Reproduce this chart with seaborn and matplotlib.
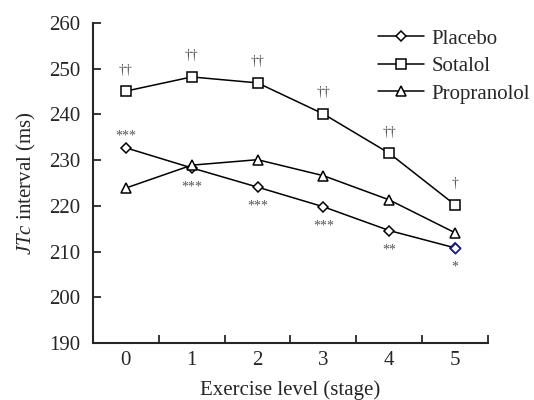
import numpy as np
import pandas as pd
import matplotlib
matplotlib.use("Agg")
import matplotlib.pyplot as plt
from matplotlib.ticker import FixedLocator
import seaborn as sns

sns.set_style("ticks")
plt.rcParams["font.family"] = ["Liberation Serif", "DejaVu Serif"]
plt.rcParams["mathtext.fontset"] = "custom"
plt.rcParams["mathtext.rm"] = "Liberation Serif"
plt.rcParams["mathtext.it"] = "Liberation Serif:italic"

# data
stages = [0, 1, 2, 3, 4, 5]
placebo = [232.7, 228.3, 224.1, 219.8, 214.6, 210.8]
sotalol = [245.1, 248.2, 246.9, 240.1, 231.5, 220.2]
propranolol = [223.9, 228.9, 230.1, 226.6, 221.3, 214.1]
sotalol_marks = ["††", "††", "††", "††", "††", "†"]
placebo_marks = ["***", "***", "***", "***", "**", "*"]
placebo_mark_above = [True, False, False, False, False, False]

df = pd.DataFrame({
    "stage": stages * 3,
    "jtc": placebo + sotalol + propranolol,
    "group": ["Placebo"] * 6 + ["Sotalol"] * 6 + ["Propranolol"] * 6,
})

fig = plt.figure(figsize=(5.34, 4), dpi=100)
ax = fig.add_axes([0.174, 0.1425, 0.74, 0.80])

markers = {"Placebo": "D", "Sotalol": "s", "Propranolol": "^"}
msizes = {"Placebo": 5.3, "Sotalol": 6.5, "Propranolol": 7}
for g in ["Placebo", "Sotalol", "Propranolol"]:
    sub = df[df["group"] == g]
    sns.lineplot(data=sub, x="stage", y="jtc", ax=ax, label=g, color="black",
                 linewidth=1.1, marker=markers[g], markersize=msizes[g],
                 markerfacecolor="white", markeredgecolor="black",
                 markeredgewidth=1.1)

# last placebo point has a blue marker in the original
last = df[(df["group"] == "Placebo") & (df["stage"] == 5)]
sns.scatterplot(data=last, x="stage", y="jtc", ax=ax, marker="D", s=27,
                facecolor="white", edgecolor="#1a1a9a", linewidth=1.3,
                zorder=5, legend=False)

# significance marks
for x, y, t in zip(stages, sotalol, sotalol_marks):
    ax.text(x, y + 4.6, t, ha="center", va="center", fontsize=10, color="#555555")
for x, y, t, up in zip(stages, placebo, placebo_marks, placebo_mark_above):
    off = 2.6 if up else -4.2
    ax.text(x, y + off, t, ha="center", va="center", fontsize=10, color="#555555")

ax.set_xlim(-0.5, 5.5)
ax.set_ylim(190, 260)
ax.set_yticks(np.arange(190, 261, 10))
ax.set_xticks(stages)
ax.xaxis.set_minor_locator(FixedLocator(np.arange(-0.5, 5.6, 1)))
ax.tick_params(axis="x", which="major", length=0, pad=6, labelsize=15)
ax.tick_params(axis="x", which="minor", direction="in", length=6, width=1.3)
ax.tick_params(axis="y", direction="in", length=6, width=1.3, pad=9, labelsize=15)

for s in ["top", "right"]:
    ax.spines[s].set_visible(False)
for s in ["left", "bottom"]:
    ax.spines[s].set_linewidth(1.5)

ax.set_xlabel("Exercise level (stage)", fontsize=15, labelpad=7)
ax.set_ylabel(r"$\it{JTc}$ interval (ms)", fontsize=15, labelpad=8)

ax.legend(loc="upper left", bbox_to_anchor=(0.693, 0.948), bbox_transform=fig.transFigure,
          frameon=False, fontsize=15, handlelength=2.2, handletextpad=0.35,
          labelspacing=0.38, borderaxespad=0)

fig.savefig("out.png", dpi=100)
